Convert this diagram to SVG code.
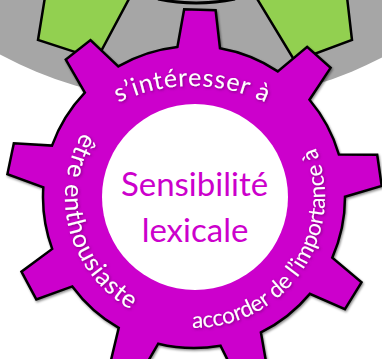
<svg xmlns="http://www.w3.org/2000/svg" width="382" height="359" viewBox="0 0 382 359">
<style>
.outline{stroke:#000;stroke-width:2.5;stroke-linejoin:miter}
.ring{font-family:Lato,"Liberation Sans",sans-serif;font-size:25px;fill:#fff}
.center{font-family:Lato,"Liberation Sans",sans-serif;font-size:33px;fill:#CC00CC;text-anchor:middle}
</style>
<defs>
<filter id="glow" x="-20%" y="-20%" width="140%" height="140%">
<feGaussianBlur in="SourceAlpha" stdDeviation="1.6" result="b"/>
<feFlood flood-color="#5a005a" flood-opacity="0.7"/>
<feComposite in2="b" operator="in"/>
<feOffset dx="0.5" dy="0.8" result="s"/>
<feMerge><feMergeNode in="s"/><feMergeNode in="SourceGraphic"/></feMerge>
</filter>
<filter id="shadow" x="-5%" y="-5%" width="110%" height="110%">
<feDropShadow dx="1" dy="1.5" stdDeviation="1.2" flood-color="#000" flood-opacity="0.45"/>
</filter>
<path id="pTop" d="M106.5,108.91 A171,171 0 0 1 277.5,108.91"/>
<path id="pLeft" d="M94.89,114.43 A129,129 0 0 0 150.31,318.38"/>
<path id="pRight" d="M184.18,327.63 A131,131 0 0 0 312.04,140.19"/>
</defs>
<rect width="382" height="359" fill="#fff"/>
<g id="gray-gear">
<circle cx="194" cy="-309" r="412" fill="#A6A6A6"/>
<path d="M158,-1 Q196,7 235,-1" fill="none" stroke="#000" stroke-width="3"/>
</g>
<g id="green-gear">
<path class="outline" fill="#92D050" d="M45,-3 L38,40 L96.9,59.1 L130,-3 Z"/>
<path class="outline" fill="#92D050" d="M256,-3 L294.9,61.2 L352,40 L347,-3 Z"/>
</g>
<g id="purple-gear" filter="url(#shadow)">
<path class="outline" fill="#CC00CC" d="M177.43,46.91 L184.16,9.26 L215.61,10.24 L219.96,48.25 A151,151 0 0 1 277.78,71.37 L307.14,46.86 L330.60,67.83 L309.50,99.74 A151,151 0 0 1 338.93,154.61 L377.19,154.70 L381.67,185.85 L345.00,196.74 A151,151 0 0 1 332.27,257.69 L361.51,282.35 L344.93,309.09 L309.85,293.85 A151,151 0 0 1 260.91,332.37 L267.45,370.05 L237.56,379.89 L220.49,345.66 A151,151 0 0 1 158.24,343.70 L139.03,376.78 L109.81,365.11 L118.73,327.90 A151,151 0 0 1 72.31,286.39 L36.32,299.38 L21.45,271.65 L52.20,248.90 A151,151 0 0 1 43.32,187.26 L7.41,174.08 L13.84,143.29 L52.01,145.60 A151,151 0 0 1 84.83,92.67 L65.78,59.50 L90.51,40.06 L118.27,66.35 A151,151 0 0 1 177.43,46.91 Z"/>
</g>
<g id="hub">
<circle cx="195" cy="197" r="93" fill="#fff"/>
<text class="center" x="194.5" y="196">Sensibilité</text>
<text class="center" x="195" y="242">lexicale</text>
</g>
<g id="ring-labels" filter="url(#glow)">
<text class="ring"><textPath href="#pTop" startOffset="50%" text-anchor="middle" textLength="152" lengthAdjust="spacing">s’intéresser à</textPath></text>
<text class="ring"><textPath href="#pLeft" startOffset="50%" text-anchor="middle" textLength="204" lengthAdjust="spacing">être enthousiaste</textPath></text>
<text class="ring" style="font-size:22.5px"><textPath href="#pRight" startOffset="50%" text-anchor="middle" textLength="258" lengthAdjust="spacing">accorder de l’importance à</textPath></text>
</g>
</svg>
